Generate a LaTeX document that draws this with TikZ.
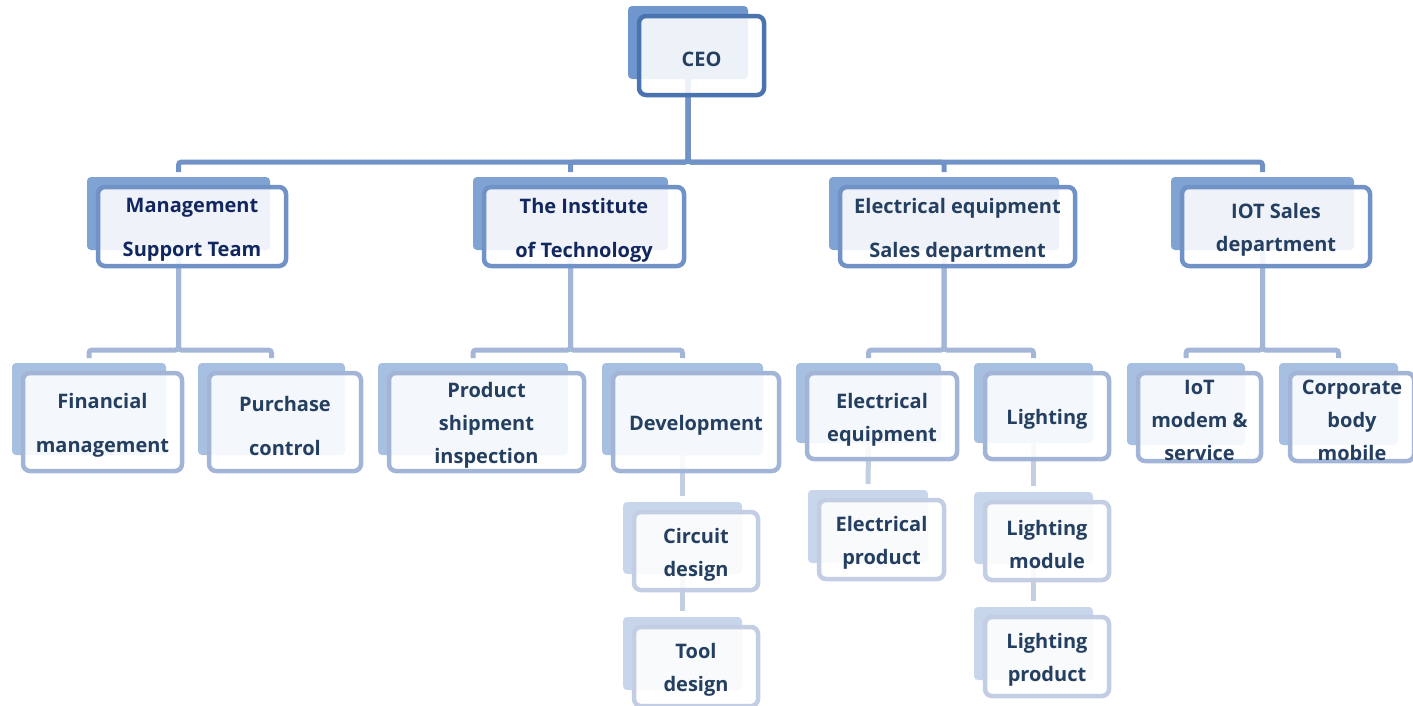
\documentclass[tikz,border=0pt]{standalone}
\usepackage{fontspec}
\setmainfont{Open Sans}
\usetikzlibrary{calc}
\pgfdeclarelayer{lines}
\pgfdeclarelayer{shad}
\pgfsetlayers{lines,shad,main}
\definecolor{shA}{HTML}{6F97CD}
\definecolor{bdA}{HTML}{4A74B0}
\definecolor{shB}{HTML}{7FA3D3}
\definecolor{bdB}{HTML}{7192C7}
\definecolor{shC}{HTML}{A7BFE0}
\definecolor{bdC}{HTML}{A3B5D7}
\definecolor{shD}{HTML}{C8D6EB}
\definecolor{bdD}{HTML}{C3CDE3}
\definecolor{cnA}{HTML}{7192C7}
\definecolor{cnB}{HTML}{A3B6D8}
\definecolor{cnC}{HTML}{C3CEE3}
\definecolor{txN}{HTML}{13275F}
\definecolor{txG}{HTML}{243F60}
\tikzset{
  shadbox/.style={rectangle, rounded corners=4pt, inner sep=0pt, outer sep=0pt, draw=none},
  frontbox/.style={rectangle, rounded corners=7pt, inner sep=0pt, outer sep=0pt, line width=4.5pt,
    fill=white, fill opacity=0.88},
  boxtext/.style={inner sep=0pt, align=center, font=\fontsize{20pt}{33pt}\selectfont\bfseries},
  lvAsh/.style={fill=shA}, lvAfr/.style={draw=bdA}, lvAtx/.style={text=txG},
  lvNsh/.style={fill=shB}, lvNfr/.style={draw=bdB}, lvNtx/.style={text=txN},
  lvBsh/.style={fill=shB}, lvBfr/.style={draw=bdB}, lvBtx/.style={text=txG},
  lvCsh/.style={fill=shC}, lvCfr/.style={draw=bdC}, lvCtx/.style={text=txG},
  lvDsh/.style={fill=shD}, lvDfr/.style={draw=bdD}, lvDtx/.style={text=txG},
  conA/.style={draw=cnA, line width=5pt, rounded corners=3pt, shorten >=5pt},
  conB/.style={draw=cnB, line width=5pt, rounded corners=3pt, shorten >=5pt},
  conC/.style={draw=cnC, line width=5pt, shorten >=6pt},
}
\newcommand{\OrgBox}[7]{%
  \pgfmathsetmacro\ocx{(#3+#5)/2}%
  \pgfmathsetmacro\ocy{(#4+#6)/2}%
  \pgfmathsetmacro\ow{#5-#3}%
  \pgfmathsetmacro\oh{#6-#4}%
  \pgfmathsetmacro\fw{\ow+5}%
  \pgfmathsetmacro\fh{\oh+6}%
  \pgfmathsetmacro\fx{\ocx+13.5}%
  \pgfmathsetmacro\fy{\ocy+13}%
  \begin{pgfonlayer}{shad}
    \node[shadbox, #2sh, minimum width=\ow pt, minimum height=\oh pt] (#1) at (\ocx,\ocy) {};
  \end{pgfonlayer}
  \node[frontbox, #2fr, minimum width=\fw pt, minimum height=\fh pt] (#1-f) at (\fx,\fy) {};
  \node[boxtext, #2tx] (#1-t) at ([yshift=-3.5pt]#1-f.center) {#7};
}
\begin{document}
\begin{tikzpicture}[x=1pt,y=-1pt]
\useasboundingbox (0,0) rectangle (1413,705);
% level 1
\OrgBox{ceo}{lvA}{628}{6}{748}{79}{CEO}
% level 2
\OrgBox{mst}{lvN}{87}{177}{270}{250}{Management\\[11pt]Support Team}
\OrgBox{ins}{lvN}{473}{177}{668}{250}{The Institute\\[11pt]of Technology}
\OrgBox{ees}{lvB}{829}{177}{1059}{250}{Electrical equipment\\[11pt]Sales department}
\OrgBox{ios}{lvB}{1171}{177}{1354}{250}{IOT Sales\\department}
% level 3
\OrgBox{fin}{lvC}{12}{363}{166}{455}{Financial\\[11pt]management}
\OrgBox{pur}{lvC}{198}{363}{345}{455}{Purchase\\[11pt]control}
\OrgBox{psi}{lvC}{378}{363}{568}{455}{Product\\shipment\\inspection}
\OrgBox{dev}{lvC}{602}{363}{763}{455}{Development}
\OrgBox{ele}{lvC}{796}{363}{941}{443}{Electrical\\equipment}
\OrgBox{lig}{lvC}{974}{363}{1093}{443}{Lighting}
\OrgBox{iom}{lvC}{1127}{363}{1245}{445}{IoT\\modem \&\\service}
\OrgBox{cbm}{lvC}{1279}{363}{1398}{445}{Corporate\\body\\mobile}
% level 4
\OrgBox{cir}{lvD}{623}{502}{742}{574}{Circuit\\design}
\OrgBox{tol}{lvD}{623}{617}{742}{690}{Tool\\design}
\OrgBox{elp}{lvD}{808}{490}{928}{563}{Electrical\\product}
\OrgBox{lgm}{lvD}{974}{492}{1093}{564}{Lighting\\module}
\OrgBox{lgp}{lvD}{974}{607}{1093}{680}{Lighting\\product}
% connectors
\coordinate (busA) at (0,162);
\coordinate (busB) at (0,350);
\begin{pgfonlayer}{lines}
  \foreach \c in {mst,ins,ees,ios}
    \draw[conA] (ceo.south) -- (ceo.south |- busA) -| (\c.north);
  \foreach \c in {fin,pur} \draw[conB] (mst.south) -- (mst.south |- busB) -| (\c.north);
  \foreach \c in {psi,dev} \draw[conB] (ins.south) -- (ins.south |- busB) -| (\c.north);
  \foreach \c in {ele,lig} \draw[conB] (ees.south) -- (ees.south |- busB) -| (\c.north);
  \foreach \c in {iom,cbm} \draw[conB] (ios.south) -- (ios.south |- busB) -| (\c.north);
  \draw[conC] (dev.south) -- (cir.north);
  \draw[conC] (cir.south) -- (tol.north);
  \draw[conC] (ele.south) -- (elp.north);
  \draw[conC] (lig.south) -- (lgm.north);
  \draw[conC] (lgm.south) -- (lgp.north);
\end{pgfonlayer}
\end{tikzpicture}
\end{document}
